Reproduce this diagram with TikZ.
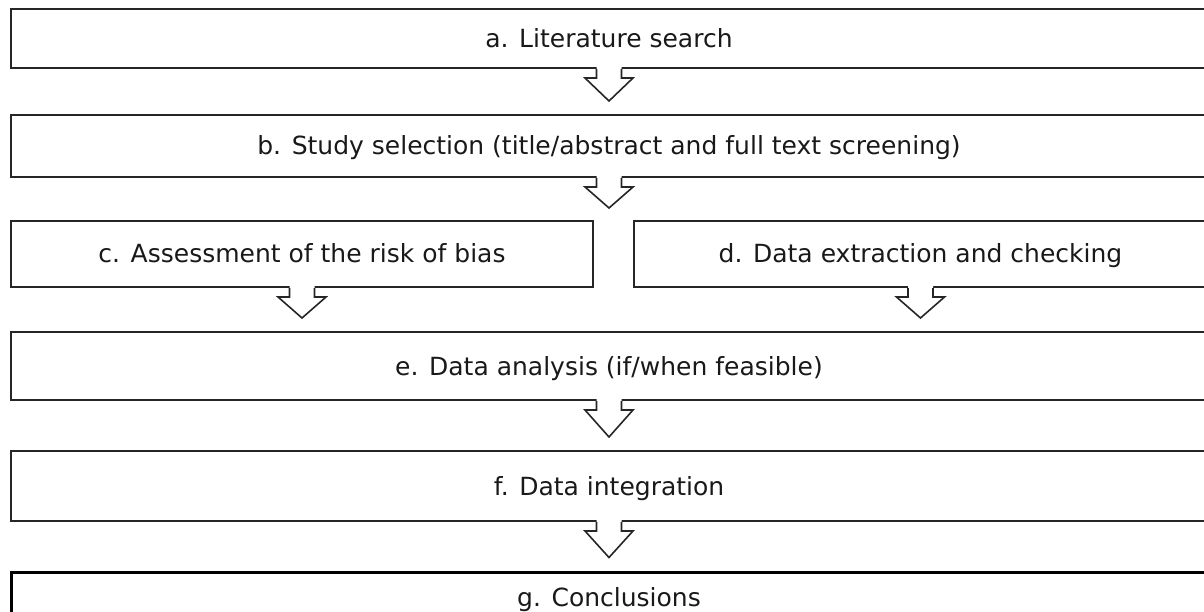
\documentclass[tikz,border=0pt]{standalone}
\usepackage{fontspec}
\setmainfont{DejaVu Sans}
\usepackage{tikz}
\usetikzlibrary{calc}

\begin{document}
\begin{tikzpicture}[x=1pt, y=-1pt,
  stage/.style={draw=black!85, line width=2pt, inner sep=0pt, text height=18pt, text depth=0pt,
    minimum width=1196pt, font=\fontsize{25}{30}\selectfont, text=black!90},
  flow/.style={draw=black!85, line width=1.6pt, line join=miter}]
\useasboundingbox (0,0) rectangle (1204,612);
\clip (0,0) rectangle (1204,612);
\node[stage, minimum height=59pt] (a) at (609,38.5) {a. Literature search};
\node[stage, minimum height=62pt] (b) at (609,146) {b. Study selection (title/abstract and full text screening)};
\node[stage, minimum height=66pt, minimum width=582pt] (c) at (302,254) {c. Assessment of the risk of bias};
\node[stage, minimum height=66pt, minimum width=573pt] (d) at (920.5,254) {d. Data extraction and checking};
\coordinate (cd) at (609,221);
\node[stage, minimum height=68pt] (e) at (609,366) {e. Data analysis (if/when feasible)};
\node[stage, minimum height=70pt] (f) at (609,486) {f. Data integration};
\node[stage, minimum height=50pt, line width=3pt, draw=black] (g) at (609,597) {g. Conclusions};
% hollow block arrows between the stages
\foreach \s/\t in {a.south/b.north, b.south/cd, c.south/e.north, d.south/e.north, e.south/f.north, f.south/g.north}{
  \fill[white] ($(\s)+(-12.5,-2)$) -- ($(\s)+(-12.5,9)$) -- ($(\s)+(-24,9)$) -- ($(\s |- \t)+(0,-13)$)
    -- ($(\s)+(24,9)$) -- ($(\s)+(12.5,9)$) -- ($(\s)+(12.5,-2)$) -- cycle;
  \draw[flow] ($(\s)+(-12.5,0)$) -- ($(\s)+(-12.5,9)$) -- ($(\s)+(-24,9)$) -- ($(\s |- \t)+(0,-13)$)
    -- ($(\s)+(24,9)$) -- ($(\s)+(12.5,9)$) -- ($(\s)+(12.5,0)$);
}
\end{tikzpicture}
\end{document}
